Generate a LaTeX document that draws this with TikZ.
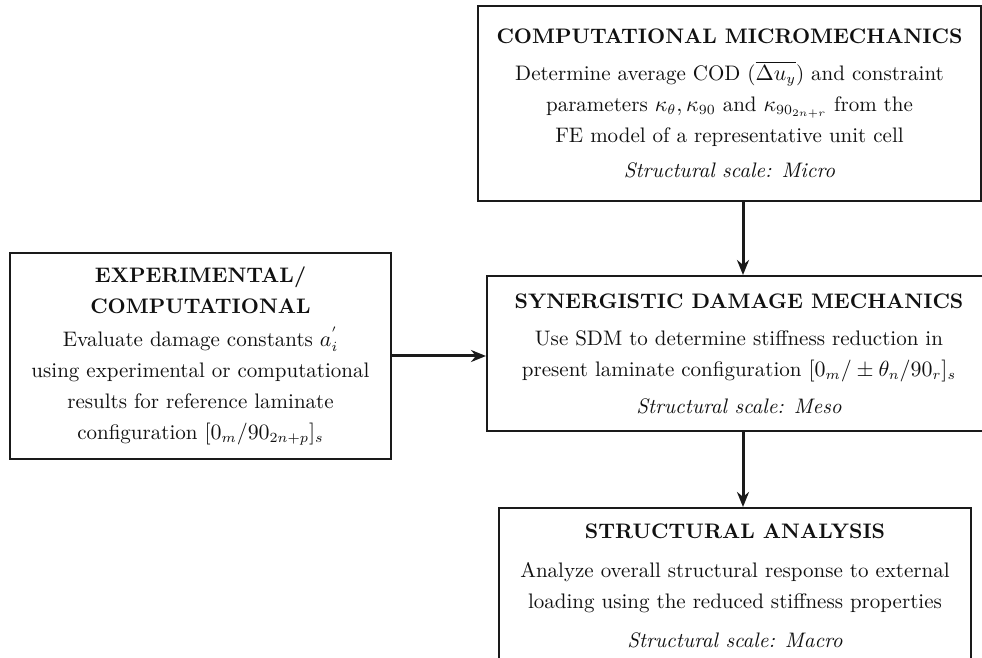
\documentclass[tikz,border=0pt]{standalone}
\usepackage{amsmath,amssymb}
\usetikzlibrary{positioning, arrows.meta, calc}
\definecolor{color_line}{HTML}{1A1A1A}
\definecolor{color_text}{HTML}{111111}
\tikzset{
  stage_box/.style={draw=color_line, line width=1pt, fill=white, anchor=north west, align=center, inner sep=0pt, font=\fontsize{10.5}{15.5}\selectfont, text=color_text},
  stage_arrow/.style={-{Stealth[length=7.5pt, width=6pt]}, draw=color_line, line width=1.5pt},
}

\begin{document}
\begin{tikzpicture}[x=0.5pt, y=-0.5pt]
    \useasboundingbox (0,0) rectangle (982,658);
    \clip (0,0) rectangle (982,658);
    % Micro scale
    \node[stage_box, minimum width=251.5pt, minimum height=97.5pt] (micro) at (477,5)
      {\textbf{COMPUTATIONAL MICROMECHANICS}\\[3pt]
       Determine average COD ($\overline{\Delta u_y}$) and constraint\\
       parameters $\kappa_\theta, \kappa_{90}$ and $\kappa_{90_{2n+r}}$ from the\\
       FE model of a representative unit cell\\[2pt]
       \textit{Structural scale: Micro}};
    % Reference laminate input
    \node[stage_box, minimum width=190.5pt, minimum height=103pt] (expt) at (9,252)
      {\textbf{EXPERIMENTAL/}\\
       \textbf{COMPUTATIONAL}\\[1pt]
       Evaluate damage constants $a_i^{'}$\\
       using experimental or computational\\
       results for reference laminate\\
       configuration $[0_m/90_{2n+p}]_s$};
    % Meso scale
    \node[stage_box, minimum width=252pt, minimum height=77.5pt] (sdm) at (486,275)
      {\textbf{SYNERGISTIC DAMAGE MECHANICS}\\[3pt]
       Use SDM to determine stiffness reduction in\\
       present laminate configuration $[0_m/\pm\theta_n/90_r]_s$\\[3pt]
       \textit{Structural scale: Meso}};
    % Macro scale
    \node[stage_box, minimum width=236pt, minimum height=78pt] (macro) at (498,507)
      {\textbf{STRUCTURAL ANALYSIS}\\[4pt]
       Analyze overall structural response to external\\
       loading using the reduced stiffness properties\\[4pt]
       \textit{Structural scale: Macro}};
    % Flow
    \coordinate (spine) at (743,0);
    \draw[stage_arrow] (micro.south -| spine) -- (sdm.north -| spine);
    \draw[stage_arrow] (sdm.south -| spine) -- (macro.north -| spine);
    \draw[stage_arrow] (expt.east) -- (expt.east -| sdm.west);
  \end{tikzpicture}
\end{document}
